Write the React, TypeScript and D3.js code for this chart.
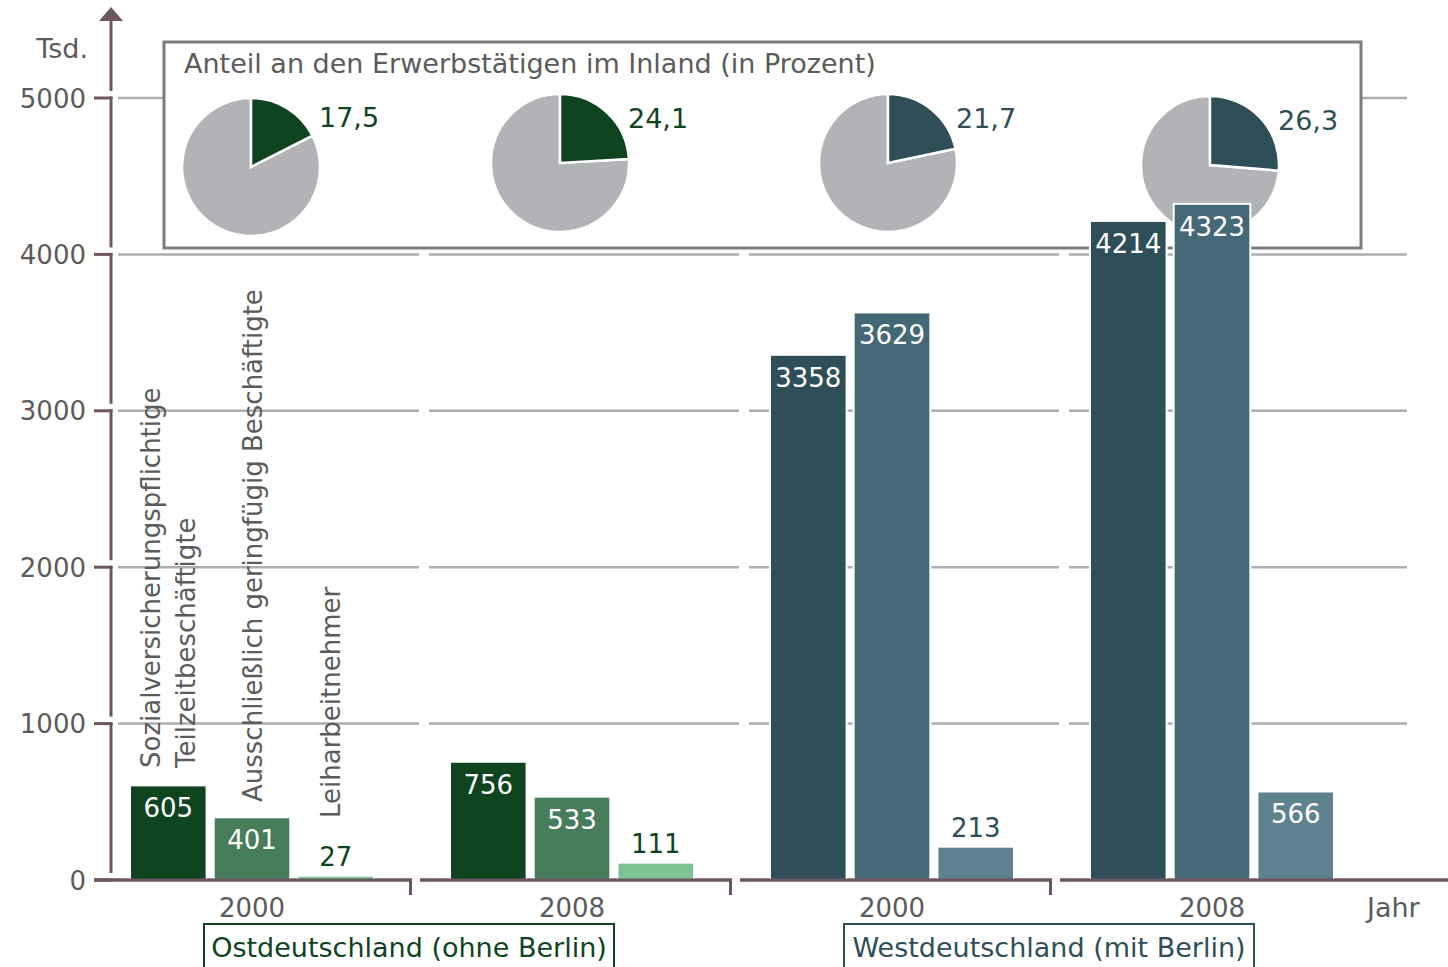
import React from "react";
import * as d3 from "d3";

const groups = ["Ost 2000", "Ost 2008", "West 2000", "West 2008"];
const yearLabels = ["2000", "2008", "2000", "2008"];
const seriesNames = [
  "Sozialversicherungspflichtige Teilzeitbeschäftigte",
  "Ausschließlich geringfügig Beschäftigte",
  "Leiharbeitnehmer",
];
const teilzeit = [605, 756, 3358, 4214];
const geringfuegig = [401, 533, 3629, 4323];
const leiharbeit = [27, 111, 213, 566];
const pieShares = [17.5, 24.1, 21.7, 26.3];
const pieLabels = ["17,5", "24,1", "21,7", "26,3"];
const yTicks = [0, 1000, 2000, 3000, 4000, 5000];
const regionNames = ["Ostdeutschland (ohne Berlin)", "Westdeutschland (mit Berlin)"];
const groupRegion = [0, 0, 1, 1];

const regionColors = [
  ["#0e4420", "#477d5a", "#7dc393"],
  ["#2e4f58", "#456876", "#5f838e"],
];
const pieGrey = "#b1b3b6";
const textGrey = "#5b5b5b";
const axisColor = "#6e5661";
const gridColor = "#abadb0";
const FONT = "'DejaVu Sans', Verdana, sans-serif";

export default function App() {
  const W = 1448, H = 967;
  const y = d3.scaleLinear().domain([0, 5000]).range([880, 98]);
  const x = d3.scaleBand().domain(groups).range([92, 1372]);
  const sub = d3.scaleBand<number>().domain([0, 1, 2]).range([-122, 122]).paddingInner(0.085);
  const step = x.step();
  const center = (g: string) => (x(g) as number) + step / 2;
  const bounds = groups.map((g) => (x(g) as number) + step);
  const seriesData = [teilzeit, geringfuegig, leiharbeit];

  const pie = d3.pie<number>().sort(null).value((d) => d);
  const arc = d3.arc<d3.PieArcDatum<number>>().innerRadius(0).outerRadius(69);
  const pieCenters = [[251, 167], [560, 163], [888, 163], [1210, 165]];

  const axisSegs: [number, number][] = [];
  for (let i = yTicks.length - 1; i >= 1; i--) {
    axisSegs.push([y(yTicks[i]), y(yTicks[i - 1]) - 7]);
  }

  const numSize = 26;
  const txtSize = 27;

  return (
    <svg width={W} height={H} style={{ display: "block", position: "absolute", left: 0, top: 0 }} fontFamily={FONT}>
      <rect width={W} height={H} fill="#fff" />
      {/* grid lines */}
      {yTicks.slice(1).map((t) =>
        groups.map((g, i) => {
          const x1 = i === 0 ? 118 : bounds[i - 1] + 17;
          const x2 = i === 3 ? 1407 : bounds[i] + 7;
          return <line key={t + g} x1={x1} x2={x2} y1={y(t)} y2={y(t)} stroke={gridColor} strokeWidth={2.5} />;
        })
      )}
      {/* y axis */}
      <line x1={111} x2={111} y1={18} y2={y(5000) - 7} stroke={axisColor} strokeWidth={3} />
      <path d="M111,7 L123,21 L99,21 Z" fill={axisColor} />
      {axisSegs.map(([a, b], i) => (
        <line key={i} x1={111} x2={111} y1={a - 1.5} y2={b} stroke={axisColor} strokeWidth={3} />
      ))}
      {yTicks.map((t) => (
        <g key={t}>
          <line x1={94} x2={112.5} y1={y(t)} y2={y(t)} stroke={axisColor} strokeWidth={3} />
          <text x={86} y={y(t) + 9.5} textAnchor="end" fontSize={numSize} fill={textGrey}>{t}</text>
        </g>
      ))}
      <text x={88} y={58} textAnchor="end" fontSize={txtSize} fill={textGrey}>Tsd.</text>

      {/* inset box with pies */}
      <rect x={164} y={42} width={1197} height={206} fill="#fff" stroke="#7b7d81" strokeWidth={3} />
      <text x={184} y={73} fontSize={27} fill={textGrey}>Anteil an den Erwerbstätigen im Inland (in Prozent)</text>
      {pieShares.map((s, i) => {
        const [cx, cy] = pieCenters[i];
        const arcs = pie([s, 100 - s]);
        const col = regionColors[groupRegion[i]][0];
        return (
          <g key={i} transform={`translate(${cx},${cy})`}>
            <path d={arc(arcs[1]) as string} fill={pieGrey} stroke="#fff" strokeWidth={2.5} />
            <path d={arc(arcs[0]) as string} fill={col} stroke="#fff" strokeWidth={2.5} />
            <text x={68} y={i === 0 ? -40 : -35} fontSize={27} fill={col}>{pieLabels[i]}</text>
          </g>
        );
      })}

      {/* x axis */}
      {groups.map((g, i) => {
        const x1 = i === 0 ? 94 : bounds[i - 1] + 8;
        const x2 = i === 3 ? W : bounds[i];
        return (
          <g key={g}>
            <line x1={x1} x2={x2} y1={880} y2={880} stroke={axisColor} strokeWidth={3} />
            {i < 3 && <line x1={x2 - 1.5} x2={x2 - 1.5} y1={880} y2={895} stroke={axisColor} strokeWidth={3} />}
            <text x={center(g)} y={917} textAnchor="middle" fontSize={numSize} fill={textGrey}>{yearLabels[i]}</text>
          </g>
        );
      })}
      <text x={1367} y={917} fontSize={txtSize} fill={textGrey}>Jahr</text>

      {/* bars */}
      {groups.map((g, gi) =>
        seriesData.map((vals, si) => {
          const v = vals[gi];
          const bx = center(g) + (sub(si) as number);
          const bw = sub.bandwidth();
          const top = y(v);
          const h = 880 - top;
          const col = regionColors[groupRegion[gi]][si];
          const inside = h > 45;
          return (
            <g key={g + si}>
              <rect x={bx} y={top} width={bw} height={h} fill={col} stroke="#fff" strokeWidth={2} />
              <text
                x={bx + bw / 2}
                y={inside ? top + 32 : top - 10}
                textAnchor="middle"
                fontSize={numSize}
                fill={inside ? "#fff" : regionColors[groupRegion[gi]][0]}
              >
                {v}
              </text>
            </g>
          );
        })
      )}
      {groups.map((g, i) => {
        const x1 = i === 0 ? 94 : bounds[i - 1] + 8;
        const x2 = i === 3 ? W : bounds[i];
        return <line key={"b" + g} x1={x1} x2={x2} y1={880} y2={880} stroke={axisColor} strokeWidth={3} />;
      })}

      {/* rotated series labels */}
      <text transform="translate(160,768) rotate(-90)" fontSize={26} fill={textGrey}>Sozialversicherungspflichtige</text>
      <text transform="translate(195,768) rotate(-90)" fontSize={26} fill={textGrey}>Teilzeitbeschäftigte</text>
      <text transform="translate(262,802) rotate(-90)" fontSize={26} fill={textGrey}>{seriesNames[1]}</text>
      <text transform="translate(340,818) rotate(-90)" fontSize={26} fill={textGrey}>{seriesNames[2]}</text>

      {/* region boxes */}
      {regionNames.map((r, ri) => {
        const cx = (center(groups[ri * 2]) + center(groups[ri * 2 + 1])) / 2 - 3;
        const col = regionColors[ri][0];
        return (
          <g key={r}>
            <rect x={cx - 205} y={924} width={410} height={60} fill="#fff" stroke={col} strokeWidth={2} />
            <text x={cx} y={957} textAnchor="middle" fontSize={txtSize} fill={col}>{r}</text>
          </g>
        );
      })}
    </svg>
  );
}
